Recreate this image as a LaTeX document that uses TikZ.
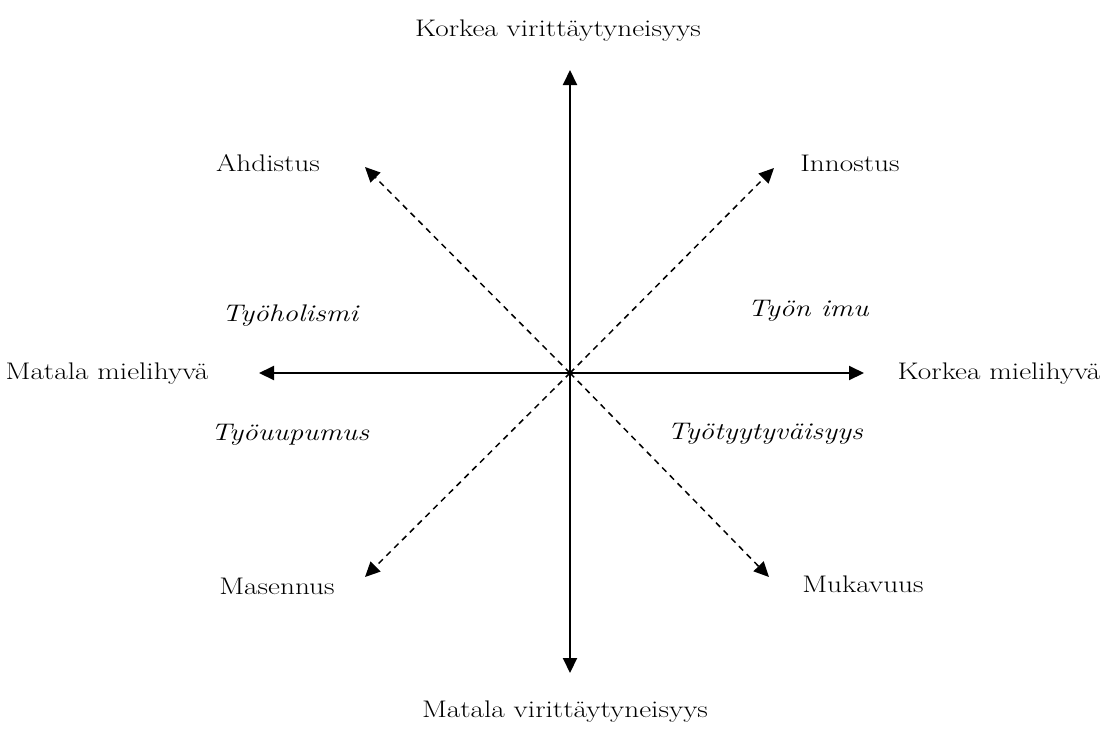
\documentclass[tikz,border=0pt]{standalone}
\usepackage{fontspec}
\setmainfont{Latin Modern Roman}[FakeStretch=1.22]
\usetikzlibrary{arrows.meta}
\tikzset{
  axis/.style={line width=2pt,-{Triangle[length=15pt,width=14pt]}},
  diag/.style={line width=1.5pt,dash pattern=on 6pt off 5pt,-{Triangle[length=15pt,width=14pt]}},
  lbl/.style={font=\fontsize{24}{27}\selectfont,inner sep=0pt},
  ilbl/.style={font=\fontsize{24}{27}\selectfont\itshape,inner sep=0pt},
}
\begin{document}
\begin{tikzpicture}[x=1pt,y=-1pt]
\useasboundingbox (0,0) rectangle (1118,729);
\coordinate (c) at (570,373);
\coordinate (top) at (570,70);
\coordinate (bot) at (570,673);
\coordinate (lft) at (259,373);
\coordinate (rgt) at (864,373);
\coordinate (ul) at (365,167);
\coordinate (ur) at (774,168);
\coordinate (ll) at (365,577);
\coordinate (lr) at (769,577);
\draw[axis] (c) -- (top);
\draw[axis] (c) -- (bot);
\draw[axis] (c) -- (lft);
\draw[axis] (c) -- (rgt);
\draw[diag] (c) -- (ul);
\draw[diag] (c) -- (ur);
\draw[diag] (c) -- (ll);
\draw[diag] (c) -- (lr);
\node[lbl] (nt) at (558,31) {Korkea virittäytyneisyys};
\node[lbl] (nb) at (565,712) {Matala virittäytyneisyys};
\node[lbl] (nl) at (107,374) {Matala mielihyvä};
\node[lbl] (nr) at (999,374) {Korkea mielihyvä};
\node[lbl] (a) at (268,163) {Ahdistus};
\node[lbl] (i) at (850,163) {Innostus};
\node[lbl] (m) at (277,586) {Masennus};
\node[lbl] (mu) at (863,584) {Mukavuus};
\node[ilbl] (th) at (290,316) {Työholismi};
\node[ilbl] (ti) at (808,311) {Työn imu};
\node[ilbl] (tu) at (290,435) {Työuupumus};
\node[ilbl] (tt) at (765,434) {Työtyytyväisyys};
\end{tikzpicture}
\end{document}
